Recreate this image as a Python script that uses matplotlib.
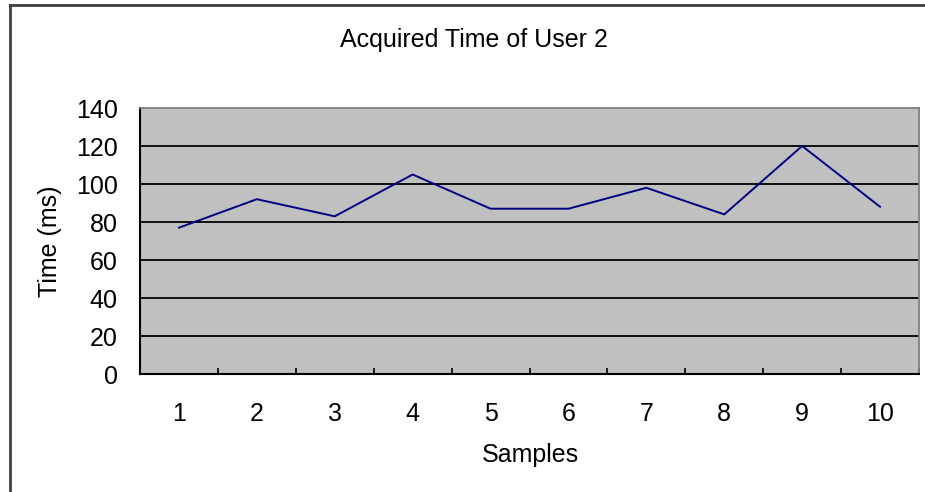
import matplotlib
matplotlib.use("Agg")
import matplotlib.pyplot as plt
from matplotlib.lines import Line2D
import numpy as np

samples = [1, 2, 3, 4, 5, 6, 7, 8, 9, 10]
times = [77, 92, 83, 105, 87, 87, 98, 84, 120, 88]
yticks = [0, 20, 40, 60, 80, 100, 120, 140]
title = "Acquired Time of User 2"
xlabel = "Samples"
ylabel = "Time (ms)"

plt.rcParams['font.family'] = ['Liberation Sans', 'DejaVu Sans']
W, H = 925, 492
fig = plt.figure(figsize=(W / 100, H / 100), dpi=100)
fig.patch.set_facecolor('white')

FS = 18
L, R, T, B = 140, 919, 108, 374
ax = fig.add_axes([L / W, 1 - B / H, (R - L) / W, (B - T) / H])
ax.set_facecolor('#C0C0C0')

ax.plot(samples, times, color='#000080', lw=1.4, zorder=3)

ax.set_xlim(0.5, len(samples) + 0.5)
ax.set_ylim(0, 140)
ax.set_yticks(yticks)
ax.set_yticklabels([str(v) for v in yticks], fontsize=FS)
ax.set_xticks(samples)
ax.set_xticklabels([str(s) for s in samples], fontsize=FS)
ax.set_xticks(np.arange(0.5, len(samples) + 1, 1.0), minor=True)
ax.tick_params(axis='x', which='major', length=0, pad=20)
ax.tick_params(axis='x', which='minor', length=4.5, width=1.2, direction='in', color='black')
ax.tick_params(axis='y', which='major', length=0, pad=16)

for v in yticks[1:-1]:
    ax.axhline(v, color='black', lw=1.3, zorder=2)

for side in ['left', 'bottom']:
    ax.spines[side].set_color('black')
    ax.spines[side].set_linewidth(1.5)
for side in ['top', 'right']:
    ax.spines[side].set_color('#808080')
    ax.spines[side].set_linewidth(1.3)

fig.text(474 / W, 1 - 40 / H, title, ha='center', va='center', fontsize=FS)
fig.text(530 / W, 1 - 455 / H, xlabel, ha='center', va='center', fontsize=FS)
fig.text(50 / W, 1 - 241 / H, ylabel, ha='center', va='center', fontsize=FS, rotation=90)

# outer chart frame (left and top edges visible)
fig.add_artist(Line2D([10 / W, 10 / W], [1 - 5 / H, 0], transform=fig.transFigure,
                      color='#404040', lw=2))
fig.add_artist(Line2D([10 / W, 1], [1 - 5 / H, 1 - 5 / H], transform=fig.transFigure,
                      color='#404040', lw=2))

fig.savefig('out.png', dpi=100, facecolor='white')
